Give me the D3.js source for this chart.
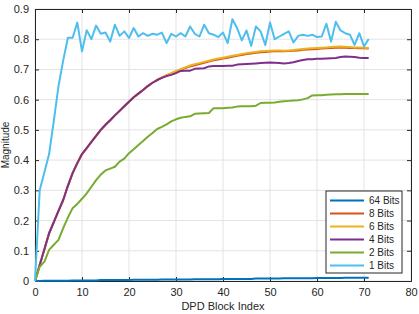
<!DOCTYPE html>
<html>
<head>
<meta charset="utf-8">
<script src="https://cdn.jsdelivr.net/npm/d3@7"></script>
<style>
  body { margin: 0; background: #fff; }
  text { font-family: "Liberation Sans", Arial, sans-serif; fill: #262626; }
</style>
</head>
<body>
<div id="chart"></div>
<script>
var xTicks = [0, 10, 20, 30, 40, 50, 60, 70, 80];
var yTicks = [0, 0.1, 0.2, 0.3, 0.4, 0.5, 0.6, 0.7, 0.8, 0.9];

var labels = ["64 Bits", "8 Bits", "6 Bits", "4 Bits", "2 Bits", "1 Bits"];
var colors = ["#0072BD", "#D95319", "#EDB120", "#7E2F8E", "#77AC30", "#4DBEEE"];

var bits64 = [0, 0.000, 0.001, 0.001, 0.001, 0.001, 0.001, 0.001, 0.002, 0.002,
  0.002, 0.002, 0.002, 0.002, 0.003, 0.003, 0.003, 0.003, 0.003, 0.003,
  0.003, 0.004, 0.004, 0.004, 0.004, 0.004, 0.004, 0.005, 0.005, 0.005,
  0.005, 0.005, 0.005, 0.005, 0.006, 0.006, 0.006, 0.006, 0.006, 0.006,
  0.007, 0.007, 0.007, 0.007, 0.007, 0.007, 0.007, 0.008, 0.008, 0.008,
  0.008, 0.008, 0.008, 0.009, 0.009, 0.009, 0.009, 0.009, 0.009, 0.009,
  0.010, 0.010, 0.010, 0.010, 0.010, 0.010, 0.011, 0.011, 0.011, 0.011,
  0.011, 0.011];

var bits8 = [0, 0.053, 0.105, 0.158, 0.195, 0.232, 0.268, 0.315, 0.357, 0.39,
  0.42, 0.44, 0.46, 0.48, 0.50, 0.517, 0.532, 0.548, 0.563, 0.578,
  0.593, 0.608, 0.62, 0.632, 0.645, 0.656, 0.665, 0.673, 0.680, 0.687,
  0.693, 0.699, 0.705, 0.710, 0.714, 0.718, 0.722, 0.726, 0.730, 0.733,
  0.736, 0.739, 0.742, 0.745, 0.748, 0.751, 0.753, 0.755, 0.757, 0.758,
  0.759, 0.760, 0.760, 0.760, 0.761, 0.762, 0.763, 0.765, 0.766, 0.767,
  0.768, 0.769, 0.770, 0.771, 0.772, 0.772, 0.772, 0.771, 0.771, 0.770,
  0.770, 0.769];

var bits6 = [0, 0.053, 0.105, 0.158, 0.195, 0.232, 0.268, 0.315, 0.357, 0.39,
  0.42, 0.44, 0.46, 0.48, 0.50, 0.517, 0.532, 0.548, 0.563, 0.578,
  0.593, 0.608, 0.62, 0.632, 0.645, 0.656, 0.666, 0.674, 0.681, 0.688,
  0.695, 0.701, 0.707, 0.713, 0.717, 0.721, 0.725, 0.729, 0.733, 0.736,
  0.739, 0.742, 0.745, 0.748, 0.751, 0.754, 0.756, 0.758, 0.760, 0.761,
  0.762, 0.763, 0.763, 0.762, 0.763, 0.764, 0.766, 0.768, 0.769, 0.770,
  0.771, 0.772, 0.773, 0.774, 0.775, 0.776, 0.775, 0.774, 0.773, 0.773,
  0.772, 0.771];

var bits4 = [0, 0.053, 0.105, 0.158, 0.195, 0.232, 0.268, 0.315, 0.357, 0.39,
  0.42, 0.44, 0.46, 0.48, 0.50, 0.517, 0.532, 0.548, 0.563, 0.578,
  0.593, 0.608, 0.62, 0.632, 0.645, 0.656, 0.665, 0.672, 0.678, 0.682,
  0.688, 0.695, 0.696, 0.696, 0.702, 0.703, 0.704, 0.71, 0.711, 0.711,
  0.711, 0.712, 0.712, 0.716, 0.717, 0.718, 0.719, 0.72, 0.721, 0.722,
  0.723, 0.722, 0.721, 0.72, 0.721, 0.724, 0.728, 0.731, 0.734, 0.734,
  0.735, 0.735, 0.736, 0.737, 0.738, 0.741, 0.743, 0.742, 0.741, 0.739,
  0.738, 0.738];

var bits2 = [0, 0.047, 0.064, 0.103, 0.12, 0.136, 0.175, 0.21, 0.241, 0.255,
  0.272, 0.29, 0.312, 0.334, 0.352, 0.366, 0.372, 0.378, 0.395, 0.405,
  0.423, 0.436, 0.45, 0.463, 0.477, 0.49, 0.503, 0.51, 0.518, 0.528,
  0.535, 0.54, 0.543, 0.545, 0.553, 0.554, 0.555, 0.556, 0.572, 0.572,
  0.572, 0.573, 0.574, 0.577, 0.578, 0.578, 0.578, 0.58, 0.589, 0.59,
  0.59, 0.591, 0.593, 0.595, 0.596, 0.597, 0.598, 0.601, 0.605, 0.614,
  0.615, 0.615, 0.616, 0.617, 0.618, 0.618, 0.619, 0.619, 0.619, 0.619,
  0.619, 0.619];

var bits1 = [0, 0.30, 0.36, 0.42, 0.53, 0.645, 0.73, 0.805, 0.805, 0.855,
  0.76, 0.83, 0.80, 0.845, 0.818, 0.822, 0.792, 0.848, 0.811, 0.826,
  0.804, 0.837, 0.809, 0.82, 0.811, 0.818, 0.815, 0.822, 0.787, 0.818,
  0.809, 0.82, 0.809, 0.842, 0.818, 0.809, 0.848, 0.82, 0.815, 0.807,
  0.822, 0.787, 0.866, 0.837, 0.796, 0.829, 0.778, 0.842, 0.826, 0.781,
  0.855, 0.80, 0.809, 0.818, 0.826, 0.789, 0.811, 0.815, 0.811, 0.815,
  0.807, 0.809, 0.851, 0.792, 0.858, 0.829, 0.82, 0.815, 0.781, 0.82,
  0.776, 0.801];

var series = [bits64, bits8, bits6, bits4, bits2, bits1];

var width = 419, height = 314;
var margin = {top: 9, right: 8, bottom: 33, left: 35};

var svg = d3.select("#chart").append("svg")
    .attr("width", width)
    .attr("height", height);

var x = d3.scaleLinear()
    .domain([0, 80])
    .range([margin.left, width - margin.right]);

var y = d3.scaleLinear()
    .domain([0, 0.9])
    .range([height - margin.bottom, margin.top]);

// grid
svg.append("g")
  .selectAll("line.gx")
    .data(xTicks)
  .enter().append("line")
    .attr("x1", function(d) { return x(d); })
    .attr("x2", function(d) { return x(d); })
    .attr("y1", y(0))
    .attr("y2", y(0.9))
    .attr("stroke", "#e3e3e3")
    .attr("stroke-width", 1);

svg.append("g")
  .selectAll("line.gy")
    .data(yTicks)
  .enter().append("line")
    .attr("x1", x(0))
    .attr("x2", x(80))
    .attr("y1", function(d) { return y(d); })
    .attr("y2", function(d) { return y(d); })
    .attr("stroke", "#e3e3e3")
    .attr("stroke-width", 1);

// axes
svg.append("g")
    .attr("transform", "translate(0," + y(0) + ")")
    .call(d3.axisBottom(x).tickValues(xTicks).tickSize(-4).tickPadding(7).tickFormat(d3.format("d")));

svg.append("g")
    .attr("transform", "translate(" + x(0) + ",0)")
    .call(d3.axisLeft(y).tickValues(yTicks).tickSize(-4).tickPadding(6).tickFormat(function(d) { return d === 0 ? "0" : d3.format(".1f")(d); }));

svg.append("g")
    .attr("transform", "translate(0," + y(0.9) + ")")
    .call(d3.axisTop(x).tickValues(xTicks).tickSize(-4).tickFormat(""));

svg.append("g")
    .attr("transform", "translate(" + x(80) + ",0)")
    .call(d3.axisRight(y).tickValues(yTicks).tickSize(-4).tickFormat(""));

svg.selectAll(".domain, .tick line").attr("stroke", "#262626");
svg.selectAll(".tick text").attr("font-size", 11).attr("fill", "#262626")
    .style("font-family", "Liberation Sans, Arial, sans-serif");

// lines
var line = d3.line()
    .x(function(d, i) { return x(i); })
    .y(function(d) { return y(d); });

svg.append("g")
  .selectAll("path")
    .data(series)
  .enter().append("path")
    .attr("d", line)
    .attr("fill", "none")
    .attr("stroke", function(d, i) { return colors[i]; })
    .attr("stroke-width", 2)
    .attr("stroke-linejoin", "round");

// labels
svg.append("text")
    .attr("x", (x(0) + x(80)) / 2)
    .attr("y", 310)
    .attr("text-anchor", "middle")
    .attr("font-size", 11)
    .text("DPD Block Index");

svg.append("text")
    .attr("transform", "translate(9," + (y(0.45)) + ") rotate(-90)")
    .attr("text-anchor", "middle")
    .attr("font-size", 10)
    .text("Magnitude");

// legend
var legend = svg.append("g")
    .attr("transform", "translate(326,191)");

legend.append("rect")
    .attr("width", 76)
    .attr("height", 82)
    .attr("fill", "#fff")
    .attr("stroke", "#262626")
    .attr("stroke-width", 1);

var item = legend.selectAll("g.item")
    .data(labels)
  .enter().append("g")
    .attr("transform", function(d, i) { return "translate(0," + (9.5 + i * 13) + ")"; });

item.append("line")
    .attr("x1", 4)
    .attr("x2", 38)
    .attr("stroke", function(d, i) { return colors[i]; })
    .attr("stroke-width", 2);

item.append("text")
    .attr("x", 43)
    .attr("dy", "0.35em")
    .attr("font-size", 10)
    .text(function(d) { return d; });
</script>
</body>
</html>
